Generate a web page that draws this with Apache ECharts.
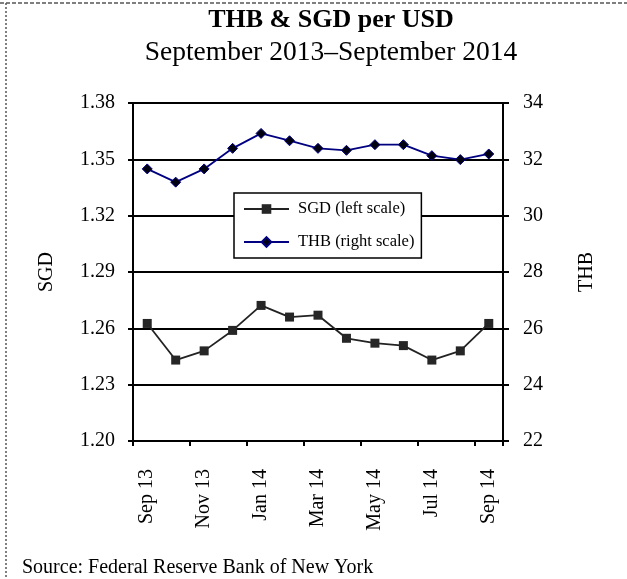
<!DOCTYPE html>
<html>
<head>
<meta charset="utf-8">
<title>THB &amp; SGD per USD</title>
<script src="https://cdn.jsdelivr.net/npm/echarts@6/dist/echarts.min.js"></script>
<style>
  html, body { margin: 0; padding: 0; background: #fff; }
  #chart { width: 627px; height: 579px; }
</style>
</head>
<body>
<div id="chart"></div>
<script>
// Monthly exchange rates, Sep 2013 – Sep 2014
const months = ['Sep 13', 'Oct 13', 'Nov 13', 'Dec 13', 'Jan 14', 'Feb 14', 'Mar 14',
                'Apr 14', 'May 14', 'Jun 14', 'Jul 14', 'Aug 14', 'Sep 14'];
const sgdPerUsd = [1.2626, 1.2431, 1.2480, 1.2589, 1.2722, 1.2660, 1.2670,
                   1.2547, 1.2521, 1.2508, 1.2431, 1.2480, 1.2626];
const thbPerUsd = [31.66, 31.19, 31.66, 32.39, 32.92, 32.66, 32.39,
                   32.32, 32.52, 32.52, 32.13, 31.99, 32.19];

const FONT = "'Liberation Serif', 'Times New Roman', serif";

const chart = echarts.init(document.getElementById('chart'), null, { renderer: 'canvas' });

chart.setOption({
  backgroundColor: '#ffffff',
  animation: false,
  textStyle: { fontFamily: FONT, color: '#000' },
  title: [
    {
      text: 'THB & SGD per USD',
      left: 331, top: 7, textAlign: 'center', padding: 0,
      textStyle: { fontFamily: FONT, fontSize: 26, fontWeight: 'bold', color: '#000', lineHeight: 26 }
    },
    {
      text: 'September 2013\u2013September 2014',
      left: 331, top: 39, textAlign: 'center', padding: 0,
      textStyle: { fontFamily: FONT, fontSize: 27.5, fontWeight: 'normal', color: '#000', lineHeight: 27.5 }
    }
  ],
  legend: {
    orient: 'vertical',
    left: 234, top: 193,
    padding: [7, 7, 7, 9],
    itemGap: 15,
    itemWidth: 45,
    itemHeight: 12,
    backgroundColor: '#ffffff',
    borderColor: '#000',
    borderWidth: 1.5,
    borderRadius: 0,
    textStyle: { fontFamily: FONT, fontSize: 16.5, color: '#000', lineHeight: 18, padding: [0, 0, 0, 4] },
    data: ['SGD (left scale)', 'THB (right scale)']
  },
  grid: { left: 133, right: 124, top: 103, bottom: 138, containLabel: false },
  xAxis: {
    type: 'category',
    data: months,
    boundaryGap: true,
    axisLine: { show: true, lineStyle: { color: '#000', width: 2 } },
    axisTick: { show: true, interval: 1, length: 5, inside: false, lineStyle: { color: '#000', width: 2 } },
    axisLabel: { interval: 1, rotate: 90, margin: 28, fontFamily: FONT, fontSize: 20, color: '#000' },
    splitLine: { show: false }
  },
  yAxis: [
    {
      type: 'value',
      position: 'left',
      min: 1.20, max: 1.38, interval: 0.03,
      name: 'SGD',
      nameLocation: 'middle',
      nameRotate: 90,
      nameGap: 76,
      nameTextStyle: { fontFamily: FONT, fontSize: 20, color: '#000' },
      axisLine: { show: true, lineStyle: { color: '#000', width: 2 } },
      axisTick: { show: true, length: 5, inside: false, lineStyle: { color: '#000', width: 2 } },
      axisLabel: { margin: 18, fontFamily: FONT, fontSize: 20, color: '#000',
                   formatter: v => v.toFixed(2) },
      splitLine: { show: true, lineStyle: { color: '#000', width: 2 } }
    },
    {
      type: 'value',
      position: 'right',
      min: 22, max: 34, interval: 2,
      name: 'THB',
      nameLocation: 'middle',
      nameRotate: 90,
      nameGap: 74,
      nameTextStyle: { fontFamily: FONT, fontSize: 20, color: '#000' },
      axisLine: { show: true, lineStyle: { color: '#000', width: 2 } },
      axisTick: { show: true, length: 6, inside: false, lineStyle: { color: '#000', width: 2 } },
      axisLabel: { margin: 20, fontFamily: FONT, fontSize: 20, color: '#000' },
      splitLine: { show: false }
    }
  ],
  series: [
    {
      name: 'SGD (left scale)',
      type: 'line',
      yAxisIndex: 0,
      data: sgdPerUsd,
      symbol: 'rect',
      symbolSize: 9,
      showAllSymbol: true,
      lineStyle: { color: '#222222', width: 1.8 },
      itemStyle: { color: '#262626', borderColor: '#262626', borderWidth: 0 },
      z: 3
    },
    {
      name: 'THB (right scale)',
      type: 'line',
      yAxisIndex: 1,
      data: thbPerUsd,
      symbol: 'diamond',
      symbolSize: 10,
      showAllSymbol: true,
      lineStyle: { color: '#000080', width: 1.8 },
      itemStyle: { color: '#000010', borderColor: '#000080', borderWidth: 1 },
      z: 3
    }
  ],
  graphic: [
    {
      type: 'line',
      shape: { x1: 0, y1: 3, x2: 627, y2: 3 },
      style: { stroke: '#555', lineWidth: 1.5, lineDash: [4, 2] },
      silent: true
    },
    {
      type: 'line',
      shape: { x1: 6, y1: 3, x2: 6, y2: 579 },
      style: { stroke: '#555', lineWidth: 1.5, lineDash: [2, 2] },
      silent: true
    },
    {
      type: 'text',
      x: 22, y: 578,
      style: {
        text: 'Source: Federal Reserve Bank of New York',
        font: "20px 'Liberation Serif', 'Times New Roman', serif",
        fill: '#000',
        verticalAlign: 'bottom',
        align: 'left'
      },
      silent: true
    }
  ]
});
</script>
</body>
</html>
